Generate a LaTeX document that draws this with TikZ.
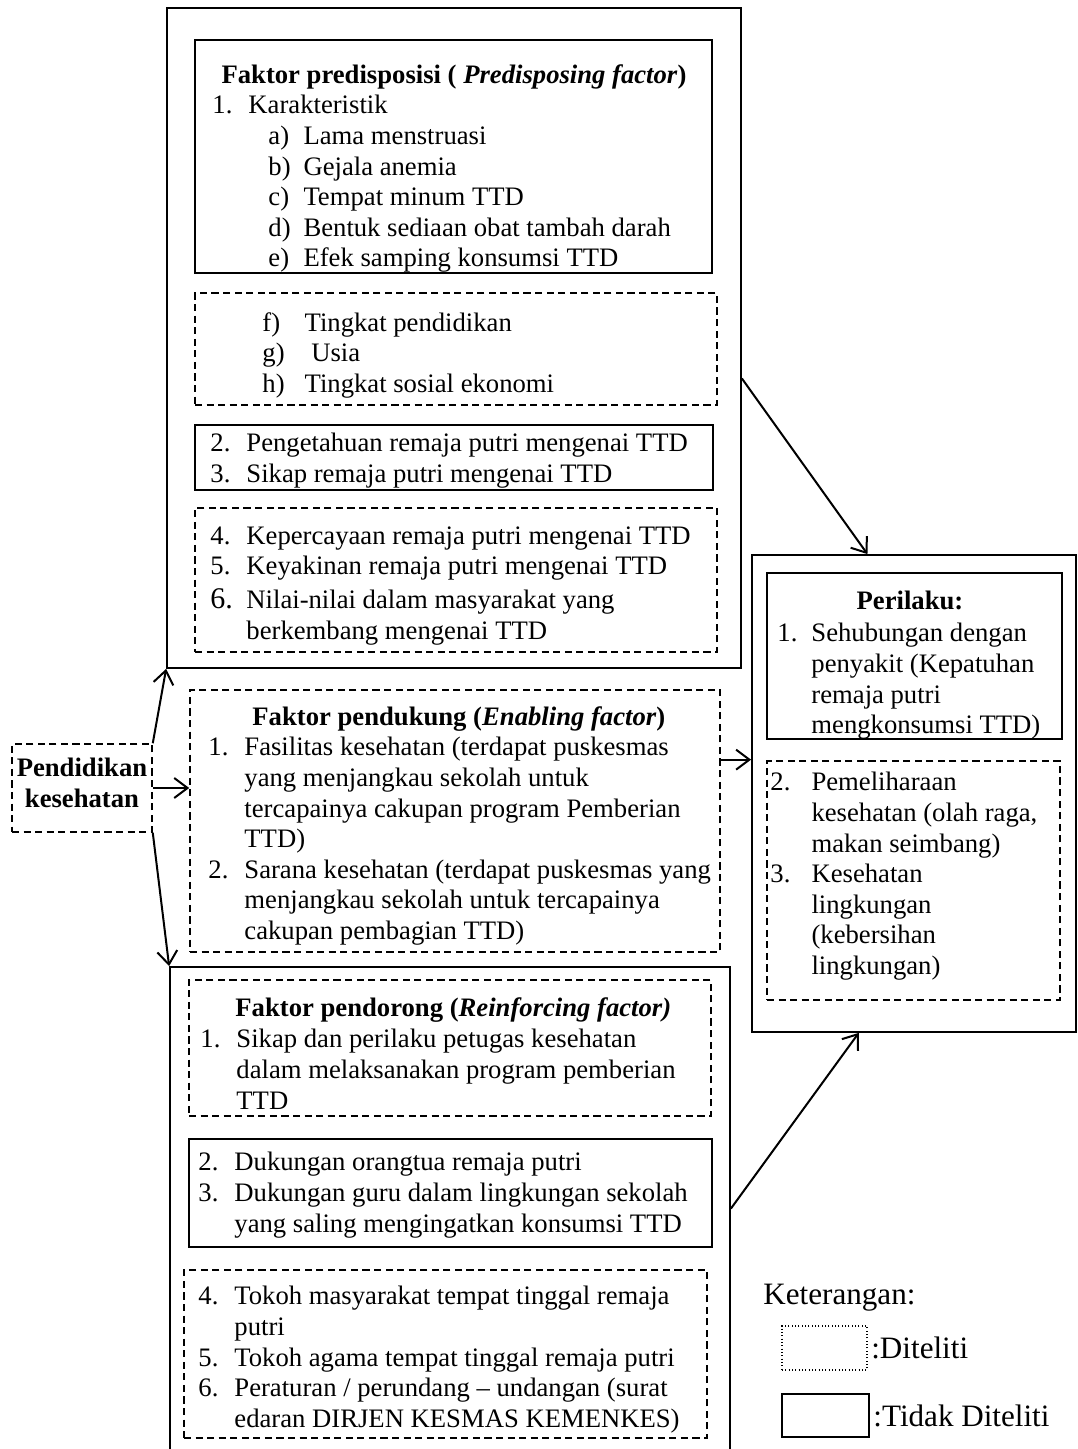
\documentclass[tikz,border=0pt]{standalone}
\usepackage{fontspec}
\setmainfont{Liberation Serif}
\usetikzlibrary{arrows.meta, fit, positioning}
\newcommand\nm[1]{\makebox[16.2pt][l]{#1}}
\newcommand\subnm[1]{\makebox[15.8pt][l]{#1}}
\newcommand\gap{\hspace*{16.2pt}}

\begin{document}
\begin{tikzpicture}[x=0.45pt, y=-0.45pt,
    solidbox/.style={draw, line width=0.8pt, inner sep=0pt},
    dashbox/.style={draw, line width=0.7pt, inner sep=0pt, dash pattern=on 3.2pt off 2pt},
    dotbox/.style={draw, line width=0.5pt, inner sep=0pt, densely dotted},
    txt/.style={inner sep=0pt, anchor=north west, align=left, font=\fontsize{12}{13.77}\selectfont},
    ttl/.style={inner sep=0pt, anchor=base, font=\fontsize{12}{13.77}\selectfont\bfseries},
    leg/.style={inner sep=0pt, anchor=base west, font=\fontsize{14}{16}\selectfont},
    arr/.style={line width=0.9pt, -{Straight Barb[length=6pt, width=9pt]}}]

  \useasboundingbox (0,0) rectangle (1078,1449);

  % faktor predisposisi
  \node [solidbox, fit={(167,8) (741,668)}] (predOuter) {};
  \node [solidbox, fit={(195,40) (712,273)}] (predChar) {};
  \node [dashbox, fit={(195,293) (717,405)}] (predMore) {};
  \node [solidbox, fit={(195,425) (713,490)}] (predKnow) {};
  \node [dashbox, fit={(195,508) (717,652)}] (predBelief) {};

  \node [ttl] (predTitle) at (454,83) {Faktor predisposisi ( \textit{Predisposing factor})};
  \node [txt] (predCharList) at (212,95) {\nm{1.}Karakteristik\\
    \hspace*{25.2pt}\subnm{a)}Lama menstruasi\\
    \hspace*{25.2pt}\subnm{b)}Gejala anemia\\
    \hspace*{25.2pt}\subnm{c)}Tempat minum TTD\\
    \hspace*{25.2pt}\subnm{d)}Bentuk sediaan obat tambah darah\\
    \hspace*{25.2pt}\subnm{e)}Efek samping konsumsi TTD};
  \node [txt] (predMoreList) at (262,312) {\makebox[19pt][l]{f)}Tingkat pendidikan\\
    \makebox[19pt][l]{g)}~Usia\\
    \makebox[19pt][l]{h)}Tingkat sosial ekonomi};
  \node [txt] (predKnowList) at (210,433) {\nm{2.}Pengetahuan remaja putri mengenai TTD\\
    \nm{3.}Sikap remaja putri mengenai TTD};
  \node [txt] (predBeliefList) at (210,526) {\nm{4.}Kepercayaan remaja putri mengenai TTD\\
    \nm{5.}Keyakinan remaja putri mengenai TTD\\[1.6pt]
    \nm{\fontsize{13.5}{13.77}\selectfont 6.}Nilai-nilai dalam masyarakat yang\\
    \gap berkembang mengenai TTD};

  % faktor pendukung
  \node [dashbox, fit={(190,690) (720,952)}] (enab) {};
  \node [ttl, anchor=base west] (enabTitle) at (252,725) {Faktor pendukung (\textit{Enabling factor})};
  \node [txt] (enabList) at (208,737) {\nm{1.}Fasilitas kesehatan (terdapat puskesmas\\
    \gap yang menjangkau sekolah untuk\\
    \gap tercapainya cakupan program Pemberian\\
    \gap TTD)\\
    \nm{2.}Sarana kesehatan (terdapat puskesmas yang\\
    \gap menjangkau sekolah untuk tercapainya\\
    \gap cakupan pembagian TTD)};

  % faktor pendorong
  \node [solidbox, fit={(170,967) (730,1460)}] (reinOuter) {};
  \node [dashbox, fit={(189,980) (711,1116)}] (reinStaff) {};
  \node [solidbox, fit={(189,1139) (712,1247)}] (reinFam) {};
  \node [dashbox, fit={(184,1270) (707,1438)}] (reinFig) {};

  \node [ttl, anchor=base west] (reinTitle) at (235,1016) {Faktor pendorong (\textit{Reinforcing factor)}};
  \node [txt] (reinStaffList) at (200,1029) {\nm{1.}Sikap dan perilaku petugas kesehatan\\
    \gap dalam melaksanakan program pemberian\\
    \gap TTD};
  \node [txt] (reinFamList) at (198,1152) {\nm{2.}Dukungan orangtua remaja putri\\
    \nm{3.}Dukungan guru dalam lingkungan sekolah\\
    \gap yang saling mengingatkan konsumsi TTD};
  \node [txt] (reinFigList) at (198,1286) {\nm{4.}Tokoh masyarakat tempat tinggal remaja\\
    \gap putri\\
    \nm{5.}Tokoh agama tempat tinggal remaja putri\\
    \nm{6.}Peraturan / perundang – undangan (surat\\
    \gap edaran DIRJEN KESMAS KEMENKES)};

  % perilaku
  \node [solidbox, fit={(752,555) (1076,1032)}] (peri) {};
  \node [solidbox, fit={(767,573) (1062,739)}] (periSick) {};
  \node [dashbox, fit={(767,761) (1060,1000)}] (periCare) {};

  \node [ttl] (periTitle) at (910,609) {Perilaku:};
  \node [txt] (periSickList) at (777,623) {\makebox[15.3pt][l]{1.}Sehubungan dengan\\
    \hspace*{15.3pt}penyakit (Kepatuhan\\
    \hspace*{15.3pt}remaja putri\\
    \hspace*{15.3pt}mengkonsumsi TTD)};
  \node [txt] (periCareList) at (770,772) {\makebox[18.5pt][l]{2.}Pemeliharaan\\
    \hspace*{18.5pt}kesehatan (olah raga,\\
    \hspace*{18.5pt}makan seimbang)\\
    \makebox[18.5pt][l]{3.}Kesehatan\\
    \hspace*{18.5pt}lingkungan\\
    \hspace*{18.5pt}(kebersihan\\
    \hspace*{18.5pt}lingkungan)};

  % pendidikan kesehatan
  \node [dashbox, fit={(12,744) (152,832)}] (pend) {};
  \node [ttl, anchor=center, align=center] (pendText) at (82,783) {Pendidikan\\kesehatan};

  \draw [arr] (pend.north east) -- (predOuter.south west);
  \draw [arr] (pend.east) -- (pend.east -| enab.west);
  \draw [arr] (pend.south east) -- (reinOuter.north west);
  \draw [arr] (predOuter.-8.9) -- (peri.101);
  \draw [arr] (enab.13) -- (enab.13 -| peri.west);
  \draw [arr] (reinOuter.1.8) -- (peri.-103);

  % keterangan
  \node [leg] (legTitle) at (763,1304) {Keterangan:};
  \node [dotbox, fit={(782,1326) (867,1370)}] (legDash) {};
  \node [solidbox, line width=0.6pt, fit={(782,1394) (869,1437)}] (legSolid) {};
  \node [leg, right=1.5pt of legDash.east, anchor=west] (legDashText) {:Diteliti};
  \node [leg, right=1.5pt of legSolid.east, anchor=west] (legSolidText) {:Tidak Diteliti};
\end{tikzpicture}
\end{document}
